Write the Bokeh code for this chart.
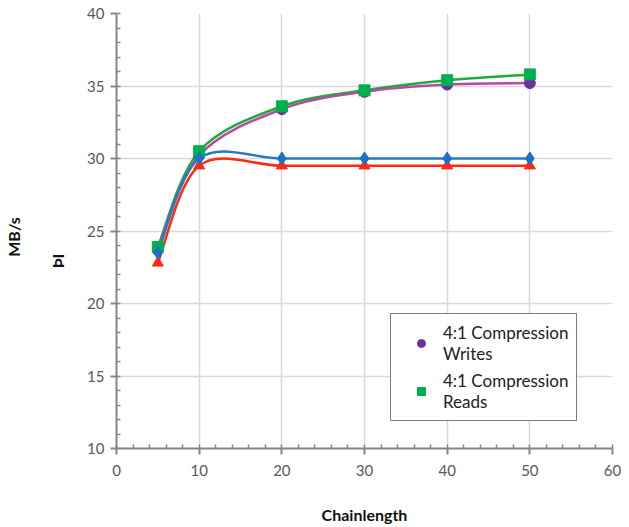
from bokeh.plotting import figure
from bokeh.models import (Range1d, SingleIntervalTicker, FixedTicker, LinearAxis,
                          Legend, LegendItem)
from bokeh.embed import file_html
from bokeh.resources import INLINE

chain = [5, 10, 20, 30, 40, 50]
writes_41 = [23.7, 30.2, 33.4, 34.6, 35.1, 35.2]
reads_41 = [23.9, 30.5, 33.6, 34.7, 35.4, 35.8]
series_blue = [23.5, 30.0, 30.0, 30.0, 30.0, 30.0]
series_red = [22.8, 29.5, 29.5, 29.5, 29.5, 29.5]
legend_writes = "4:1 Compression\nWrites"
legend_reads = "4:1 Compression\nReads"

FONT = "Lato"
EM = "\u2003"

p = figure(frame_width=496, frame_height=435, min_border_left=108, min_border_right=14,
           min_border_top=13, min_border_bottom=65,
           output_backend="svg", toolbar_location=None,
           x_range=Range1d(0, 60), y_range=Range1d(10, 40))
p.outline_line_color = None
p.background_fill_color = "white"


def smooth(xs, ys):
    n = len(xs)
    x0, y0, x1, y1, cx0, cy0, cx1, cy1 = [], [], [], [], [], [], [], []
    for i in range(n - 1):
        pa = (xs[max(i - 1, 0)], ys[max(i - 1, 0)])
        pb = (xs[i], ys[i])
        pc = (xs[i + 1], ys[i + 1])
        pd = (xs[min(i + 2, n - 1)], ys[min(i + 2, n - 1)])
        x0.append(pb[0]); y0.append(pb[1]); x1.append(pc[0]); y1.append(pc[1])
        cx0.append(pb[0] + (pc[0] - pa[0]) / 6); cy0.append(pb[1] + (pc[1] - pa[1]) / 6)
        cx1.append(pc[0] - (pd[0] - pb[0]) / 6); cy1.append(pc[1] - (pd[1] - pb[1]) / 6)
    return dict(x0=x0, y0=y0, x1=x1, y1=y1, cx0=cx0, cy0=cy0, cx1=cx1, cy1=cy1)


for ys, col in [(reads_41, "#1FAA3A"), (series_red, "#FF2A10"),
                (writes_41, "#B848A8"), (series_blue, "#2A78C8")]:
    d = smooth(chain, ys)
    p.bezier(x0=d["x0"], y0=d["y0"], x1=d["x1"], y1=d["y1"],
             cx0=d["cx0"], cy0=d["cy0"], cx1=d["cx1"], cy1=d["cy1"],
             line_color=col, line_width=2.5)

r_red = p.scatter(chain, series_red, marker="triangle", size=11, color="#FF2A10")
r_w = p.scatter(chain, writes_41, marker="circle", size=11, color="#7030A0")
r_r = p.scatter(chain, reads_41, marker="square", size=11, color="#00B050")
r_b = p.scatter(chain, series_blue, marker="diamond", size=13, color="#1F6FC8")

legend = Legend(items=[LegendItem(label=legend_writes, renderers=[r_w]),
                       LegendItem(label=legend_reads, renderers=[r_r])],
                location=(274, 27))
legend.border_line_color = "black"
legend.border_line_width = 1.5
legend.label_text_font = FONT
legend.label_text_font_size = "17px"
legend.label_text_color = "#222222"
legend.label_text_line_height = 1.3
legend.glyph_width = 44
legend.label_standoff = 0
legend.spacing = 6
legend.padding = 8
legend.margin = 0
p.add_layout(legend, "center")

for ax in (p.xaxis[0], p.yaxis[0]):
    ax.axis_line_color = "#868686"
    ax.axis_line_width = 2
    ax.major_tick_line_color = "#868686"
    ax.major_tick_line_width = 2
    ax.minor_tick_line_color = "#868686"
    ax.minor_tick_line_width = 1.5
    ax.major_tick_out = 6
    ax.major_tick_in = 0
    ax.minor_tick_in = 4
    ax.minor_tick_out = 0
    ax.major_label_text_font = FONT
    ax.major_label_text_font_size = "15px"
    ax.major_label_text_color = "#595959"
    ax.axis_label_text_font = FONT
    ax.axis_label_text_font_style = "bold"
    ax.axis_label_text_font_size = "16px"
    ax.axis_label_text_color = "#111111"

p.xaxis.ticker = SingleIntervalTicker(interval=10, num_minor_ticks=5)
p.yaxis.ticker = SingleIntervalTicker(interval=5, num_minor_ticks=5)
p.xaxis.axis_label = "Chainlength"
p.xaxis.axis_label_standoff = 26
p.xaxis.major_label_standoff = 10
p.yaxis.major_label_standoff = 6


def label_axis(text, standoff, size="16px"):
    a = LinearAxis(ticker=FixedTicker(ticks=[]),
                   axis_line_color=None, major_tick_line_color=None,
                   minor_tick_line_color=None, major_label_text_font_size="0px",
                   axis_label=text, axis_label_standoff=standoff,
                   axis_label_text_font=FONT, axis_label_text_font_style="bold",
                   axis_label_text_font_size=size, axis_label_text_color="#111111")
    return a


blob_axis = label_axis("ÞI" + EM * 5, 18)
mbs_axis = label_axis("MB/s" + EM, 22)
p.left = [p.yaxis[0], blob_axis, mbs_axis]

p.xgrid.ticker = SingleIntervalTicker(interval=10)
p.ygrid.ticker = SingleIntervalTicker(interval=5)
p.xgrid.grid_line_color = "#D9D9D9"
p.ygrid.grid_line_color = "#D9D9D9"
p.xgrid.grid_line_width = 1.5
p.ygrid.grid_line_width = 1.5

open("out.html", "w").write(file_html(p, INLINE))
